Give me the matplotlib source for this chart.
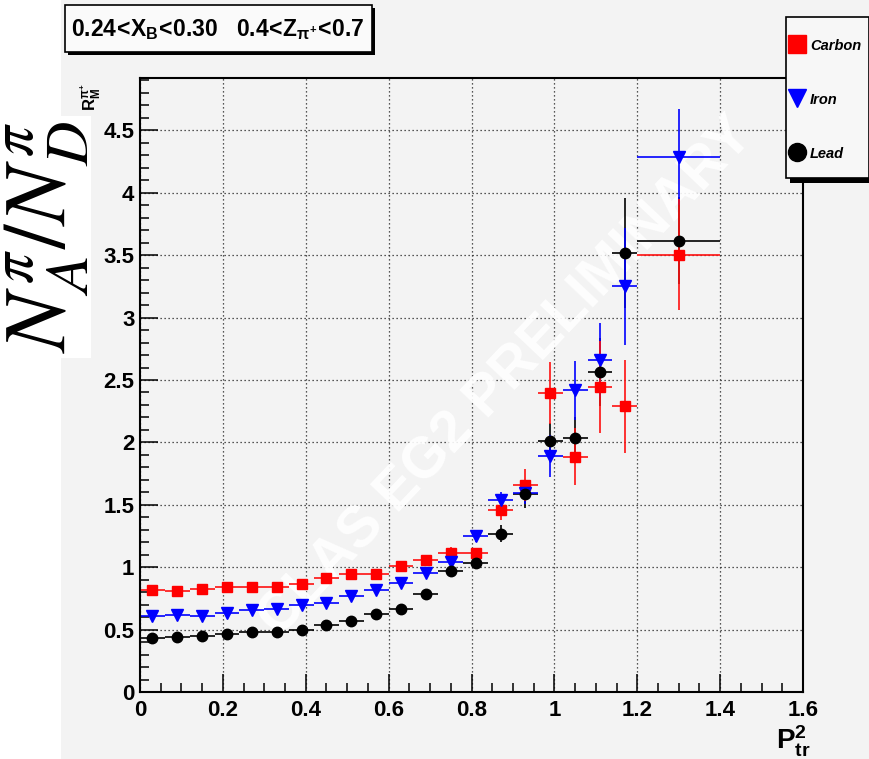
import matplotlib
matplotlib.use('Agg')
import matplotlib.pyplot as plt
from matplotlib import font_manager
from matplotlib.patches import Rectangle
from matplotlib.lines import Line2D
from matplotlib.ticker import MultipleLocator, FuncFormatter

# P_t^2 bins (GeV^2): bin centres and half widths
pt2 = [0.03, 0.09, 0.15, 0.21, 0.27, 0.33, 0.39, 0.45, 0.51, 0.57, 0.63,
       0.69, 0.75, 0.81, 0.87, 0.93, 0.99, 1.05, 1.11, 1.17, 1.30]
pt2_err = [0.03, 0.03, 0.03, 0.03, 0.03, 0.03, 0.03, 0.03, 0.03, 0.03, 0.03,
           0.03, 0.03, 0.03, 0.03, 0.03, 0.03, 0.03, 0.03, 0.03, 0.10]

carbon = [0.814, 0.806, 0.828, 0.838, 0.840, 0.842, 0.868, 0.911, 0.949, 0.943, 1.006,
          1.056, 1.115, 1.111, 1.458, 1.657, 2.398, 1.886, 2.443, 2.288, 3.505]
carbon_err = [0.015, 0.015, 0.015, 0.015, 0.015, 0.015, 0.02, 0.02, 0.02, 0.025, 0.025,
              0.03, 0.05, 0.04, 0.08, 0.13, 0.25, 0.23, 0.37, 0.375, 0.445]

iron = [0.606, 0.614, 0.606, 0.633, 0.655, 0.665, 0.697, 0.711, 0.769, 0.820, 0.871,
        0.957, 1.040, 1.248, 1.535, 1.596, 1.892, 2.417, 2.660, 3.250, 4.290]
iron_err = [0.01, 0.01, 0.01, 0.01, 0.012, 0.012, 0.012, 0.015, 0.015, 0.02, 0.02,
            0.025, 0.03, 0.05, 0.07, 0.09, 0.17, 0.235, 0.30, 0.47, 0.385]

lead = [0.430, 0.437, 0.452, 0.465, 0.477, 0.478, 0.500, 0.540, 0.571, 0.624, 0.663,
        0.784, 0.972, 1.037, 1.268, 1.586, 2.008, 2.034, 2.563, 3.520, 3.617]
lead_err = [0.01, 0.01, 0.01, 0.01, 0.01, 0.01, 0.012, 0.012, 0.015, 0.015, 0.02,
            0.025, 0.03, 0.04, 0.07, 0.11, 0.15, 0.17, 0.27, 0.44, 0.35]

names = {f.name for f in font_manager.fontManager.ttflist}
SANS = 'Liberation Sans Narrow' if 'Liberation Sans Narrow' in names else 'Liberation Sans'

plt.rcParams['font.family'] = [SANS, 'DejaVu Sans']
plt.rcParams['mathtext.fontset'] = 'custom'
plt.rcParams['mathtext.rm'] = SANS
plt.rcParams['mathtext.bf'] = SANS + ':bold'
plt.rcParams['mathtext.it'] = SANS + ':italic'

CANVAS = '#f3f3f3'
W, H = 870, 759


def fx(px):
    return px / W


def fy(py):
    return 1 - py / H


fig = plt.figure(figsize=(8.7, 7.59), dpi=100, facecolor='white')
fig.patches.append(Rectangle((fx(61), 0), 1 - fx(61), 1, transform=fig.transFigure,
                             facecolor=CANVAS, edgecolor='none', zorder=-10))

ax = fig.add_axes([fx(140), fy(692), fx(803) - fx(140), fy(78) - fy(692)])
ax.set_facecolor(CANVAS)
ax.set_xlim(0, 1.6)
ax.set_ylim(0, 4.92)

# error bars first (lead, iron, carbon), markers on top
for y, e, c, z in [(lead, lead_err, 'black', 2.0),
                   (iron, iron_err, '#0000ff', 2.1),
                   (carbon, carbon_err, '#ff1010', 2.2)]:
    ax.errorbar(pt2, y, xerr=pt2_err, yerr=e, fmt='none', ecolor=c,
                elinewidth=1.4, capsize=0, alpha=0.85, zorder=z)
ax.plot(pt2, carbon, ls='none', marker='s', ms=7.5, color='#ff0000', mec='#ff0000', zorder=5)
ax.plot(pt2, iron, ls='none', marker='v', ms=8, color='#0000ff', mec='#0000ff', zorder=5.1)
ax.plot(pt2, lead, ls='none', marker='o', ms=7.5, color='black', zorder=5.2)

ax.text(0.886, 2.52, 'CLAS EG2 PRELIMINARY', rotation=46.5, rotation_mode='anchor',
        ha='center', va='center', fontsize=41, fontweight='bold', color='white',
        family=['Liberation Sans', 'DejaVu Sans'], alpha=0.9, zorder=1)

ax.xaxis.set_major_locator(MultipleLocator(0.2))
ax.xaxis.set_minor_locator(MultipleLocator(0.05))
ax.yaxis.set_major_locator(MultipleLocator(0.5))
ax.yaxis.set_minor_locator(MultipleLocator(0.1))
fmt = FuncFormatter(lambda v, p: '%g' % round(v, 2))
ax.xaxis.set_major_formatter(fmt)
ax.yaxis.set_major_formatter(fmt)
ax.tick_params(which='both', direction='in', top=False, right=False, width=1.1)
ax.tick_params(which='major', length=13, labelsize=16)
ax.tick_params(which='minor', length=6.5)
ax.tick_params(axis='x', pad=6)
ax.tick_params(axis='y', pad=4)
for lab in ax.get_xticklabels() + ax.get_yticklabels():
    lab.set_fontweight('bold')
for s in ax.spines.values():
    s.set_linewidth(1.5)
ax.set_axisbelow(True)
ax.grid(True, which='major', color='#222222', linestyle=(0, (1, 2.2)), linewidth=0.9)

# title box with drop shadow
fig.patches.append(Rectangle((fx(68), fy(55)), fx(372) - fx(65), fy(5) - fy(52),
                             transform=fig.transFigure, facecolor='black', edgecolor='none'))
fig.patches.append(Rectangle((fx(65), fy(52)), fx(372) - fx(65), fy(5) - fy(52),
                             transform=fig.transFigure, facecolor='#fafafa',
                             edgecolor='black', linewidth=1.2))
fig.text(fx(218), fy(30),
         r'$\mathbf{0.24\!<\!X_{B}\!<\!0.30\ \ \ 0.4\!<\!Z_{\pi^{+}}\!<\!0.7}$',
         ha='center', va='center', fontsize=16.5)

# legend box
fig.patches.append(Rectangle((fx(790), fy(183)), fx(874) - fx(786), fy(17) - fy(178),
                             transform=fig.transFigure, facecolor='black', edgecolor='none'))
fig.patches.append(Rectangle((fx(786), fy(178)), fx(869) - fx(786), fy(17) - fy(178),
                             transform=fig.transFigure, facecolor='#f7f7f7',
                             edgecolor='black', linewidth=1.2))
for py, m, c, label in [(44, 's', '#ff0000', 'Carbon'),
                        (98, 'v', '#0000ff', 'Iron'),
                        (152, 'o', 'black', 'Lead')]:
    fig.add_artist(Line2D([fx(797)], [fy(py)], marker=m, ms=13, color=c, mec=c,
                          ls='none', transform=fig.transFigure))
    fig.text(fx(810), fy(py + 2), label, ha='left', va='center', fontsize=10.5,
             fontweight='bold', fontstyle='italic')

# axis titles
fig.patches.append(Rectangle((0, fy(358)), fx(91), fy(116) - fy(358),
                             transform=fig.transFigure, facecolor='white', edgecolor='none'))
fig.text(fx(47), fy(237), r'$N^{\pi}_{A}/N^{\pi}_{D}$', rotation=90, ha='center', va='center',
         fontsize=63, math_fontfamily='stix')
fig.text(fx(91), fy(97), r'$\mathbf{R_{M}^{\pi^{+}}}$', rotation=90, ha='center', va='center',
         fontsize=12)
fig.text(fx(793), fy(741), r'$\mathbf{P^{2}_{tr}}$', ha='center', va='center', fontsize=20)

fig.savefig('out.png', dpi=100, facecolor=fig.get_facecolor())
